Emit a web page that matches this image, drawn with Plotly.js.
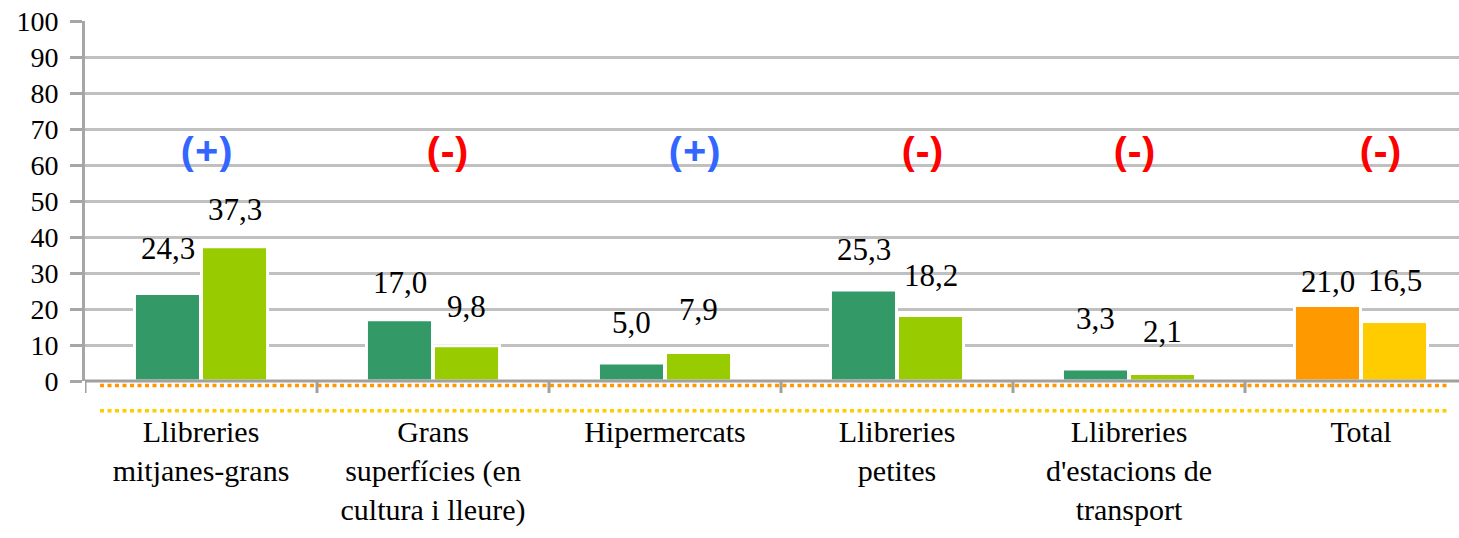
<!DOCTYPE html>
<html>
<head>
<meta charset="utf-8">
<script src="https://cdn.plot.ly/plotly-3.0.1.min.js"></script>
<style>html,body{margin:0;padding:0;background:#fff;}
#chart{width:1459px;height:538px;}
#chart text.serifize{font-family:'Liberation Serif', serif !important;}</style>
</head>
<body>
<div id="chart"></div>
<script>
// ---- data ----
var categories = [
  "Llibreries<br>mitjanes-grans",
  "Grans<br>superfícies (en<br>cultura i lleure)",
  "Hipermercats",
  "Llibreries<br>petites",
  "Llibreries<br>d'estacions de<br>transport",
  "Total"
];
var seriesA = [24.3, 17.0, 5.0, 25.3, 3.3, 21.0];
var seriesB = [37.3, 9.8, 7.9, 18.2, 2.1, 16.5];
var signs = ["(+)", "(-)", "(+)", "(-)", "(-)", "(-)"];
var yTicks = [0, 10, 20, 30, 40, 50, 60, 70, 80, 90, 100];

// ---- styles ----
var colorsA = ["#339966", "#339966", "#339966", "#339966", "#339966", "#ff9900"];
var colorsB = ["#99cc00", "#99cc00", "#99cc00", "#99cc00", "#99cc00", "#ffcc00"];
var signColor = {"(+)": "#3366ff", "(-)": "#ff0000"};
var labelShiftA = [45, 37, 41, 40, 51, 24];
var labelShiftB = [37, 39, 43, 40, 42, 41];
var signShiftX = [5, 14, 29, 25, 5, 19];
var signLevel = 64.2;
var catPx = 232;           // pixel width of one category
var halfSlot = 33.5;       // pixel offset of each bar centre from category centre

function fmt(v) { return v.toFixed(1).replace('.', ','); }

var xIdx = categories.map(function (c, i) { return i; });

var traceA = {
  type: 'bar', x: xIdx, y: seriesA,
  marker: {color: colorsA, line: {color: '#ffffff', width: 3}},
  hoverinfo: 'none', showlegend: false
};
var traceB = {
  type: 'bar', x: xIdx, y: seriesB,
  marker: {color: colorsB, line: {color: '#ffffff', width: 3}},
  hoverinfo: 'none', showlegend: false
};

var annotations = [];
xIdx.forEach(function (i) {
  annotations.push({
    x: i, y: seriesA[i], xref: 'x', yref: 'y', text: fmt(seriesA[i]),
    showarrow: false, xshift: -halfSlot, yshift: labelShiftA[i], yanchor: 'middle',
    font: {family: 'Liberation Serif', size: 31, color: '#000'}
  });
  annotations.push({
    x: i, y: seriesB[i], xref: 'x', yref: 'y', text: fmt(seriesB[i]),
    showarrow: false, xshift: halfSlot, yshift: labelShiftB[i], yanchor: 'middle',
    font: {family: 'Liberation Serif', size: 31, color: '#000'}
  });
  annotations.push({
    x: i, y: signLevel, xref: 'x', yref: 'y', text: '<b>' + signs[i] + '</b>',
    showarrow: false, xshift: signShiftX[i], yanchor: 'middle',
    font: {family: 'Open Sans', size: 41, color: signColor[signs[i]]}
  });
});

var plotW = 1459 - 85;
var shapes = [
  {type: 'line', xref: 'paper', yref: 'paper', x0: 15 / plotW, x1: (1447 - 85) / plotW,
   y0: -4.6 / 360, y1: -4.6 / 360, line: {color: '#ff9900', width: 3.5, dash: '4px,3.5px'}},
  {type: 'line', xref: 'paper', yref: 'paper', x0: 15 / plotW, x1: (1447 - 85) / plotW,
   y0: -29.7 / 360, y1: -29.7 / 360, line: {color: '#ffcc00', width: 3.5, dash: '4px,3.5px'}},
  {type: 'line', xref: 'paper', yref: 'paper', x0: 0, x1: 1, y0: 0, y1: 0,
   line: {color: '#a0a0a0', width: 3}}
].concat(xIdx.map(function (i) {
  return {type: 'line', xref: 'x', yref: 'paper', x0: i - 0.5, x1: i - 0.5,
          y0: 0, y1: -12 / 360, line: {color: '#a0a0a0', width: 3}};
}));

var layout = {
  width: 1459, height: 538,
  margin: {l: 85, r: 0, t: 21, b: 157, pad: 0},
  paper_bgcolor: '#ffffff', plot_bgcolor: '#ffffff',
  bargap: 0.422, bargroupgap: 0.015, barmode: 'group',
  showlegend: false,
  xaxis: {
    type: 'linear', range: [-0.5, -0.5 + plotW / catPx], fixedrange: true,
    tickmode: 'array', tickvals: xIdx, ticktext: categories,
    showgrid: false, zeroline: false, showline: false,
    ticks: '', ticklabelstandoff: 30,
    tickfont: {family: 'Liberation Serif', size: 30, color: '#000'}
  },
  yaxis: {
    range: [0, 100], fixedrange: true, tickmode: 'array', tickvals: yTicks, ticktext: yTicks.map(String),
    showgrid: true, gridcolor: '#c0c0c0', gridwidth: 3,
    zeroline: false, showline: true, linecolor: '#a6a6a6', linewidth: 3,
    ticks: 'outside', ticklen: 12, tickwidth: 3, tickcolor: '#a6a6a6',
    ticklabelstandoff: 6,
    tickfont: {family: 'Liberation Serif', size: 28, color: '#000'}
  },
  annotations: annotations,
  shapes: shapes
};

function serifize() {
  var nodes = document.querySelectorAll('#chart text');
  nodes.forEach(function (t) {
    var fam = t.style.fontFamily || '';
    if (fam.indexOf('Open Sans') === -1 || t.closest('.xtick, .ytick')) {
      if (fam.indexOf('Open Sans') === -1) {
        t.classList.add('serifize');
        t.style.setProperty('font-family', "'Liberation Serif', serif", 'important');
        t.setAttribute('font-family', 'Liberation Serif');
      }
    }
  });
}

Plotly.newPlot('chart', [traceA, traceB], layout, {displayModeBar: false}).then(serifize);
</script>
</body>
</html>
